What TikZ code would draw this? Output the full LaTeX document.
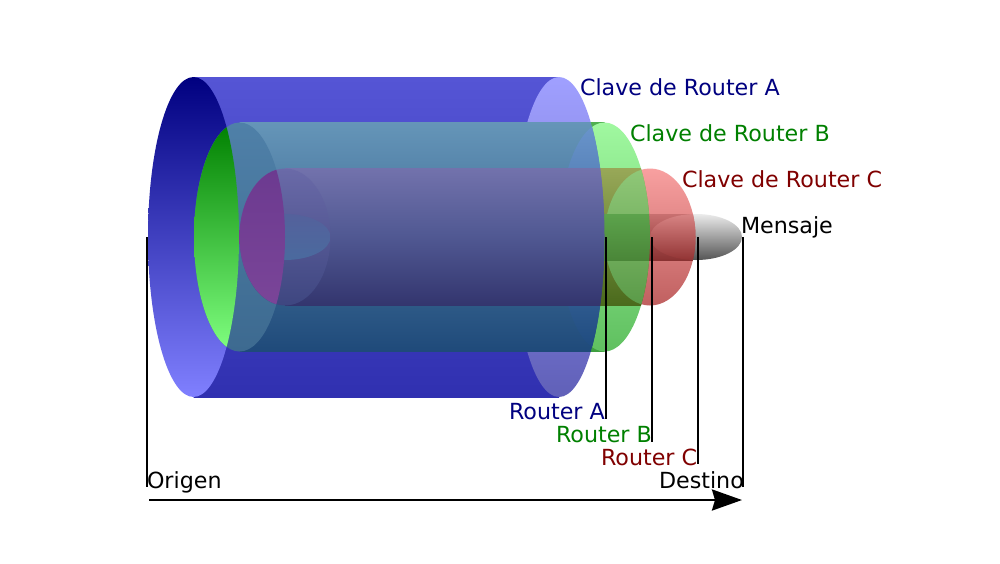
\documentclass[tikz,border=0pt]{standalone}
\usepackage{fontspec}
\setmainfont{DejaVu Sans}
\usetikzlibrary{arrows.meta}
\definecolor{aTop}{HTML}{5555D5}\definecolor{aBot}{HTML}{3030B0}
\definecolor{acTop}{HTML}{A0A0FF}\definecolor{acBot}{HTML}{6060B8}
\definecolor{alTop}{HTML}{000080}\definecolor{alBot}{HTML}{8080FF}
\definecolor{bsTop}{HTML}{50B050}\definecolor{bsBot}{HTML}{3F9F3F}
\definecolor{bcTop}{HTML}{A0F8A0}\definecolor{bcBot}{HTML}{60C060}
\definecolor{btTop}{HTML}{6595B8}\definecolor{btBot}{HTML}{1F4A7A}
\definecolor{biTop}{HTML}{6A95CC}\definecolor{biBot}{HTML}{1E4A7E}
\definecolor{blTop}{HTML}{4F80A8}\definecolor{blBot}{HTML}{3D6A90}
\definecolor{glTop}{HTML}{008000}\definecolor{glBot}{HTML}{80FF80}
\definecolor{ccTop}{HTML}{F8A0A0}\definecolor{ccBot}{HTML}{C06060}
\definecolor{coTop}{HTML}{98A858}\definecolor{coBot}{HTML}{4A6A1C}
\definecolor{cgTop}{HTML}{90C878}\definecolor{cgBot}{HTML}{5A9A48}
\definecolor{cpTop}{HTML}{7272AC}\definecolor{cpMid}{HTML}{505892}\definecolor{cpBot}{HTML}{33356E}
\definecolor{clTop}{HTML}{6A6AA8}\definecolor{clBot}{HTML}{3E4680}
\definecolor{purTop}{HTML}{6C3A90}\definecolor{purBot}{HTML}{7A4598}
\definecolor{mcTop}{HTML}{EBEBEB}\definecolor{mcBot}{HTML}{555555}
\definecolor{mrTop}{HTML}{C87070}\definecolor{mrBot}{HTML}{8A3232}
\definecolor{meTop}{HTML}{D88484}\definecolor{meBot}{HTML}{923434}
\definecolor{mgTop}{HTML}{5CA34C}\definecolor{mgBot}{HTML}{4A8638}
\definecolor{mlTop}{HTML}{54619C}\definecolor{mlBot}{HTML}{4A6A9E}
\definecolor{keyA}{HTML}{000080}\definecolor{keyB}{HTML}{008000}\definecolor{keyC}{HTML}{800000}
% silhouette: left centre, right centre, rx, top, bottom, ry
\newcommand{\silh}[6]{(#1,#4) -- (#2,#4) arc[start angle=-90,end angle=90,x radius=#3,y radius=#6] -- (#1,#5) arc[start angle=90,end angle=270,x radius=#3,y radius=#6] -- cycle}
\newcommand{\silA}{\silh{193.5}{559}{45.5}{77}{397}{160}}
\newcommand{\silB}{\silh{239.5}{604.5}{45.5}{122.5}{351.5}{114.5}}
\newcommand{\silC}{\silh{285}{650}{45.5}{168.5}{305.5}{68.5}}
\tikzset{
  gr/.style 2 args={top color=#1,bottom color=#2},
  grband/.style={top color=cpTop,bottom color=cpBot,middle color=cpMid},
  lbl/.style={anchor=base west,inner sep=0pt,outer sep=0pt,font=\fontsize{22.2}{24}\selectfont},
  guide/.style={draw=black,line width=1.7pt},
}
\begin{document}
\begin{tikzpicture}[x=1pt,y=-1pt]
\useasboundingbox (0,0) rectangle (1000,563);
\fill[white] (0,0) rectangle (1000,563);
% Cylinder A
\shade[gr={aTop}{aBot}] (193.5,77) rectangle (559,397);
\shade[gr={acTop}{acBot}] (559,237) ellipse (45.5 and 160);
\shade[gr={alTop}{alBot}] (193.5,237) ellipse (45.5 and 160);
% Cylinder B
\shade[gr={bsTop}{bsBot}] (570,122.5) rectangle (604.5,351.5);
\shade[gr={bcTop}{bcBot}] (604.5,237) ellipse (45.5 and 114.5);
\begin{scope}
  \clip \silA;
  \shade[gr={btTop}{btBot}] (239.5,122.5) rectangle (604.5,351.5);
  \shade[gr={biTop}{biBot}] (604.5,237) ellipse (45.5 and 114.5);
  \shade[gr={blTop}{blBot}] (239.5,237) ellipse (45.5 and 114.5);
  \clip (193.5,237) ellipse (45.5 and 160);
  \shade[gr={glTop}{glBot}] (239.5,237) ellipse (45.5 and 114.5);
\end{scope}
% Cylinder C
\shade[gr={ccTop}{ccBot}] (650,237) ellipse (45.5 and 68.5);
\begin{scope}
  \clip \silB;
  \shade[gr={coTop}{coBot}] (285,168.5) rectangle (650,305.5);
  \shade[gr={cgTop}{cgBot}] (650,237) ellipse (45.5 and 68.5);
\end{scope}
\begin{scope}
  \clip \silA;
  \shade[grband] (285,168.5) rectangle (650,305.5);
  \shade[gr={clTop}{clBot}] (285,237) ellipse (45.5 and 68.5);
  \shade[gr={mlTop}{mlBot}] (285,237) ellipse (45.5 and 23);
  \clip (239.5,237) ellipse (45.5 and 114.5);
  \shade[gr={purTop}{purBot}] (285,237) ellipse (45.5 and 68.5);
\end{scope}
% Message
\shade[gr={mcTop}{mcBot}] (696,237) ellipse (46 and 23);
\begin{scope}
  \clip \silC;
  \shade[gr={mrTop}{mrBot}] (600,214) rectangle (696,260);
  \shade[gr={meTop}{meBot}] (696,237) ellipse (46 and 23);
\end{scope}
\begin{scope}
  \clip (604.5,237) ellipse (45.5 and 114.5);
  \shade[gr={mgTop}{mgBot}] (590,214) rectangle (660,260);
\end{scope}
\begin{scope}
  \clip \silA;
  \shade[grband] (590,168.5) rectangle (610,305.5);
\end{scope}
% Guides
\coordinate (o1) at (147,237);  \coordinate (o2) at (147,487);
\coordinate (a1) at (606,237);  \coordinate (a2) at (606,419);
\coordinate (b1) at (652,237);  \coordinate (b2) at (652,442);
\coordinate (c1) at (698,237);  \coordinate (c2) at (698,464);
\coordinate (d1) at (743,237);  \coordinate (d2) at (743,487);
\draw[guide] (o1) -- (o2);
\draw[guide] (a1) -- (a2);
\draw[guide] (b1) -- (b2);
\draw[guide] (c1) -- (c2);
\draw[guide] (d1) -- (d2);
% Arrow
\coordinate (s) at (149,500);
\coordinate (e) at (742,500);
\draw[line width=2.6pt,-{Stealth[length=30pt,width=21pt,inset=3pt]}] (s) -- (e);
% Labels
\node[lbl,text=keyA] (ka) at (580,95) {Clave de Router A};
\node[lbl,text=keyB] (kb) at (630,141) {Clave de Router B};
\node[lbl,text=keyC] (kc) at (682,187) {Clave de Router C};
\node[lbl,text=black] (msg) at (741,233) {Mensaje};
\node[lbl,text=keyA] (ra) at (509,419) {Router A};
\node[lbl,text=keyB] (rb) at (556,442) {Router B};
\node[lbl,text=keyC] (rc) at (601,465) {Router C};
\node[lbl,text=black] (org) at (147,488) {Origen};
\node[lbl,text=black] (dst) at (659,488) {Destino};
\end{tikzpicture}
\end{document}
